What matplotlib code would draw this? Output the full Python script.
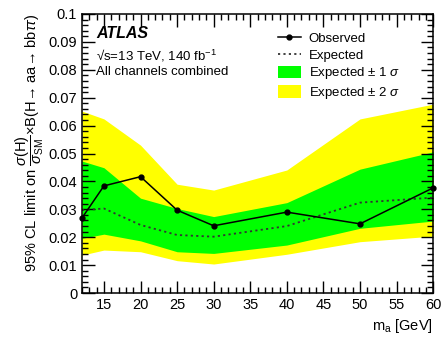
import matplotlib
matplotlib.use("Agg")
import matplotlib.pyplot as plt
from matplotlib.ticker import MultipleLocator
from matplotlib.lines import Line2D
from matplotlib.patches import Patch

plt.rcParams['font.family'] = ['Liberation Sans', 'DejaVu Sans']
plt.rcParams['mathtext.fontset'] = 'custom'
plt.rcParams['mathtext.rm'] = 'Liberation Sans'
plt.rcParams['mathtext.it'] = 'Liberation Sans:italic'
plt.rcParams['mathtext.bf'] = 'Liberation Sans:bold'

# mass points [GeV]
m_a = [12, 15, 20, 25, 30, 40, 50, 60]
observed = [0.0269, 0.0384, 0.0417, 0.0297, 0.0241, 0.0290, 0.0248, 0.0377]
expected = [0.0297, 0.0303, 0.0244, 0.0208, 0.0202, 0.0240, 0.0324, 0.0342]
band1_lo = [0.0196, 0.0211, 0.0187, 0.0148, 0.0142, 0.0172, 0.0232, 0.0258]
band1_hi = [0.0473, 0.0449, 0.0340, 0.0303, 0.0274, 0.0324, 0.0444, 0.0506]
band2_lo = [0.0136, 0.0154, 0.0148, 0.0116, 0.0104, 0.0139, 0.0184, 0.0204]
band2_hi = [0.0652, 0.0624, 0.0530, 0.0390, 0.0369, 0.0441, 0.0624, 0.0677]

fig = plt.figure(figsize=(4.42, 3.38), dpi=100)
ax = fig.add_axes([0.1855, 0.133, 0.7945, 0.8256])

ax.fill_between(m_a, band2_lo, band2_hi, color='#ffff00', linewidth=0)
ax.fill_between(m_a, band1_lo, band1_hi, color='#00ff00', linewidth=0)
ax.plot(m_a, expected, color='#333333', linestyle=(0, (1.2, 1.8)), linewidth=1.3)
ax.plot(m_a, observed, color='black', linewidth=1.1, marker='o', markersize=3.5, clip_on=False)

ax.set_xlim(12, 60)
ax.set_ylim(0, 0.1)
ax.xaxis.set_major_locator(MultipleLocator(5))
ax.xaxis.set_minor_locator(MultipleLocator(1))
ax.yaxis.set_major_locator(MultipleLocator(0.01))
ax.yaxis.set_minor_locator(MultipleLocator(0.002))
ax.tick_params(which='both', direction='in', top=True, right=True, labelsize=10.5, width=1)
ax.tick_params(which='major', length=9)
ax.tick_params(which='minor', length=4.5)
ax.set_yticks([0, 0.01, 0.02, 0.03, 0.04, 0.05, 0.06, 0.07, 0.08, 0.09, 0.1])
ax.set_yticklabels(['0', '0.01', '0.02', '0.03', '0.04', '0.05', '0.06', '0.07', '0.08', '0.09', '0.1'])
for s in ax.spines.values():
    s.set_linewidth(1.1)

ax.set_xlabel(r'm$_{\mathrm{a}}$ [GeV]', fontsize=10.5, loc='right', labelpad=4)
ax.set_ylabel('95% CL limit on $\\dfrac{\\sigma(\\mathrm{H})}{\\sigma_{\\mathrm{SM}}}$$\\times$B(H\u2192 aa\u2192 bb$\\tau\\tau$)',
              fontsize=10.5, loc='top', labelpad=2)

ax.text(0.04, 0.958, 'ATLAS', transform=ax.transAxes, fontsize=11.5, fontweight='bold',
        style='italic', va='top')
ax.text(0.04, 0.88, '\u221as=13 TeV, 140 fb$^{-1}$', transform=ax.transAxes, fontsize=9.5, va='top')
ax.text(0.04, 0.815, 'All channels combined', transform=ax.transAxes, fontsize=9.5, va='top')

handles = [Line2D([], [], color='black', marker='o', markersize=3.5, linewidth=1.1),
           Line2D([], [], color='#333333', linestyle=(0, (1.2, 1.8)), linewidth=1.3),
           Patch(facecolor='#00ff00', edgecolor='none'),
           Patch(facecolor='#ffff00', edgecolor='none')]
labels = ['Observed', 'Expected', r'Expected $\pm$ 1 $\sigma$', r'Expected $\pm$ 2 $\sigma$']
ax.legend(handles, labels, loc='upper left', bbox_to_anchor=(0.54, 0.962), frameon=False,
          fontsize=9.5, handlelength=1.7, handleheight=1.1, labelspacing=0.25, borderpad=0, handletextpad=0.6)

fig.savefig('out.png', dpi=100)
